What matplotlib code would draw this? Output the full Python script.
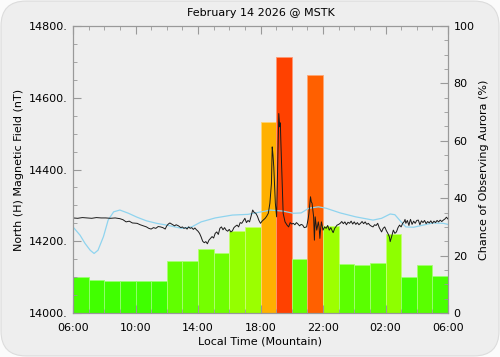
import numpy as np
import matplotlib
matplotlib.use('Agg')
import matplotlib.pyplot as plt
from matplotlib.patches import FancyBboxPatch
from matplotlib.ticker import MultipleLocator, FuncFormatter
import colorsys

# Hourly aurora chance (%), one bar per hour starting 06:00 local
aurora_pct = [12.5, 11.6, 11.3, 11.2, 11.3, 11.2, 18.1, 18.1, 22.3, 20.9, 28.6, 29.9,
              66.6, 89.3, 18.8, 83.0, 30.4, 17.1, 16.7, 17.4, 27.4, 12.4, 16.6, 12.9]

# Magnetometer north (H) component, hours after 06:00 local
mag_t = [0.0, 0.3, 0.6, 0.9, 1.2, 1.5, 1.8, 2.1, 2.4, 2.7, 3.0, 3.2, 3.4, 3.6, 3.8, 4.1,
         4.3, 4.5, 4.7, 4.85, 5.0, 5.15, 5.3, 5.45, 5.6, 5.75, 5.9, 6.0, 6.1, 6.2, 6.35,
         6.5, 6.6, 6.75, 6.9, 7.0, 7.1, 7.2, 7.3, 7.4, 7.5, 7.6, 7.7, 7.8, 7.9, 8.0, 8.1,
         8.2, 8.3, 8.4, 8.5, 8.6, 8.7, 8.8, 8.9, 9.0, 9.1, 9.2, 9.3, 9.4, 9.5, 9.6, 9.7,
         9.8, 9.9, 10.0, 10.1, 10.2, 10.3, 10.4, 10.5, 10.6, 10.7, 10.8, 10.9, 11.0, 11.1,
         11.2, 11.3, 11.4, 11.5, 11.6, 11.7, 11.8, 11.9, 12.0, 12.1, 12.2, 12.3, 12.4,
         12.5, 12.6, 12.7, 12.75, 12.8, 12.85, 12.95, 13.03, 13.1, 13.17, 13.23, 13.27,
         13.3, 13.4, 13.45, 13.57, 13.7, 13.8, 13.9, 14.0, 14.1, 14.2, 14.3, 14.4, 14.5,
         14.6, 14.7, 14.8, 14.95, 15.05, 15.1, 15.2, 15.25, 15.3, 15.4, 15.45, 15.5, 15.6,
         15.7, 15.75, 15.8, 15.85, 15.9, 16.0, 16.1, 16.2, 16.3, 16.4, 16.5, 16.6, 16.65,
         16.75, 16.9, 17.0, 17.1, 17.2, 17.3, 17.4, 17.5, 17.6, 17.7, 17.8, 17.9, 18.0,
         18.1, 18.2, 18.3, 18.4, 18.5, 18.6, 18.7, 18.8, 18.9, 19.0, 19.1, 19.2, 19.3,
         19.4, 19.5, 19.6, 19.7, 19.75, 19.85, 19.95, 20.05, 20.15, 20.25, 20.3, 20.4,
         20.5, 20.6, 20.7, 20.8, 20.9, 21.0, 21.1, 21.2, 21.25, 21.3, 21.4, 21.5, 21.55,
         21.6, 21.7, 21.8, 21.9, 22.0, 22.1, 22.2, 22.3, 22.4, 22.5, 22.6, 22.7, 22.8,
         22.9, 23.0, 23.1, 23.2, 23.3, 23.4, 23.5, 23.6, 23.7, 23.8, 23.9, 24.0]
mag_h = [14265, 14264, 14266, 14265, 14264, 14266, 14265, 14265, 14264, 14265, 14263,
         14260, 14254, 14256, 14251, 14250, 14246, 14243, 14240, 14236, 14234, 14238,
         14236, 14241, 14240, 14238, 14234, 14243, 14248, 14251, 14247, 14243, 14246,
         14243, 14238, 14240, 14236, 14238, 14234, 14240, 14236, 14238, 14233, 14237,
         14232, 14228, 14222, 14212, 14200, 14196, 14199, 14193, 14203, 14208, 14213,
         14209, 14222, 14226, 14219, 14236, 14240, 14232, 14238, 14231, 14228, 14233,
         14226, 14229, 14238, 14242, 14245, 14240, 14252, 14250, 14257, 14264, 14252,
         14258, 14254, 14270, 14287, 14280, 14278, 14270, 14258, 14250, 14256, 14260,
         14264, 14270, 14278, 14306, 14361, 14463, 14440, 14407, 14306, 14268, 14407,
         14556, 14519, 14530, 14482, 14343, 14278, 14254, 14245, 14240, 14252, 14248,
         14250, 14246, 14252, 14248, 14243, 14247, 14245, 14238, 14240, 14262, 14278,
         14324, 14310, 14306, 14268, 14203, 14268, 14231, 14254, 14240, 14208, 14236,
         14254, 14231, 14240, 14236, 14244, 14231, 14238, 14228, 14224, 14236, 14245,
         14247, 14250, 14255, 14249, 14254, 14246, 14253, 14250, 14256, 14248, 14254,
         14247, 14252, 14246, 14250, 14255, 14249, 14254, 14247, 14250, 14245, 14242,
         14240, 14246, 14244, 14250, 14238, 14230, 14226, 14236, 14240, 14230, 14222,
         14212, 14199, 14214, 14231, 14222, 14226, 14238, 14245, 14240, 14250, 14255,
         14261, 14250, 14258, 14244, 14254, 14261, 14247, 14256, 14250, 14258, 14259,
         14246, 14257, 14252, 14258, 14249, 14255, 14251, 14257, 14250, 14256, 14252,
         14258, 14254, 14259, 14255, 14259, 14262, 14267, 14262]

# Expected quiet-day curve
quiet_t = [0.0, 0.45, 0.77, 1.1, 1.35, 1.6, 1.95, 2.25, 2.6, 3.0, 3.55, 4.1, 4.7, 5.35,
           6.0, 6.95, 7.6, 8.2, 9.1, 10.2, 11.2, 12.3, 12.6, 13.45, 14.1, 14.6, 15.1,
           15.7, 16.2, 17.1, 18.1, 19.2, 19.75, 20.3, 20.6, 21.0, 21.3, 21.8, 22.4,
           23.05, 23.7, 24.0]
quiet_h = [14240, 14217, 14194, 14175, 14166, 14175, 14213, 14259, 14282, 14287, 14278,
           14267, 14257, 14250, 14245, 14236, 14240, 14254, 14265, 14273, 14275, 14284,
           14287, 14284, 14278, 14279, 14292, 14296, 14292, 14279, 14268, 14259, 14264,
           14276, 14274, 14254, 14240, 14239, 14245, 14251, 14250, 14247]

hour_labels = ['06:00', '10:00', '14:00', '18:00', '22:00', '02:00', '06:00']


def bar_color(pct):
    # hue goes from green (low chance) to red (high chance)
    hue = max(0.0, 118 - 1.15 * pct) / 360.0
    return colorsys.hsv_to_rgb(hue, 1.0, 1.0)


def edge_color(pct):
    r, g, b = bar_color(pct)
    return (r + (1 - r) * 0.45, g + (1 - g) * 0.45, b + (1 - b) * 0.45)


plt.rcParams['font.family'] = 'DejaVu Sans'
plt.rcParams['font.size'] = 8

fig = plt.figure(figsize=(5, 3.57), dpi=100)
fig.patch.set_facecolor('#fbfbfb')
fig.patches.append(FancyBboxPatch((0.002, 0.003), 0.996, 0.994,
                                  boxstyle='round,pad=0,rounding_size=0.05',
                                  mutation_aspect=1.4,
                                  transform=fig.transFigure,
                                  facecolor='#eeeeee', edgecolor='#dcdcdc',
                                  linewidth=0.8, zorder=-10))

ax = fig.add_axes([0.146, 0.1232, 0.75, 0.804])
ax2 = ax.twinx()

# aurora bars on the right axis
hours = np.arange(len(aurora_pct))
ax2.bar(hours, aurora_pct, width=1.0, align='edge',
        color=[bar_color(v) for v in aurora_pct],
        edgecolor=[edge_color(v) for v in aurora_pct], linewidth=0.6)
ax2.set_ylim(0, 100)
ax2.yaxis.set_major_locator(MultipleLocator(20))
ax2.yaxis.set_minor_locator(MultipleLocator(5))
ax2.set_ylabel('Chance of Observing Aurora (%)', labelpad=3)

# magnetometer lines on the left axis, drawn above the bars
ax.set_zorder(ax2.get_zorder() + 1)
ax.patch.set_visible(False)
ax2.patch.set_facecolor('#eeeeee')
ax.plot(quiet_t, quiet_h, color='#8fd4ee', linewidth=0.9)
ax.plot(mag_t, mag_h, color='#1a1a1a', linewidth=0.7)
ax.set_ylim(14000, 14800)
ax.set_xlim(0, 24)
ax.yaxis.set_major_locator(MultipleLocator(200))
ax.yaxis.set_minor_locator(MultipleLocator(50))
ax.yaxis.set_major_formatter(FuncFormatter(lambda v, p: '%d.' % v))
ax.xaxis.set_major_locator(MultipleLocator(4))
ax.xaxis.set_minor_locator(MultipleLocator(1))
ax.set_xticks(np.arange(0, 25, 4))
ax.set_xticklabels(hour_labels)
ax.set_ylabel('North (H) Magnetic Field (nT)', labelpad=3)
ax.set_xlabel('Local Time (Mountain)', labelpad=3)
ax.set_title('February 14 2026 @ MSTK', fontsize=8, pad=7)

for a in (ax, ax2):
    for s in a.spines.values():
        s.set_color('#999999')
        s.set_linewidth(0.8)
ax.tick_params(axis='x', which='both', direction='in', top=True, color='#999999', pad=7)
ax.tick_params(axis='x', which='major', length=6)
ax.tick_params(axis='x', which='minor', length=3)
ax.tick_params(axis='y', which='both', direction='in', right=False, color='#999999', pad=4)
ax.tick_params(axis='y', which='major', length=6)
ax.tick_params(axis='y', which='minor', length=3)
ax2.tick_params(axis='y', which='both', direction='in', color='#999999', pad=4)
ax2.tick_params(axis='y', which='major', length=6)
ax2.tick_params(axis='y', which='minor', length=3)

fig.savefig('out.png', dpi=100, facecolor=fig.get_facecolor())
